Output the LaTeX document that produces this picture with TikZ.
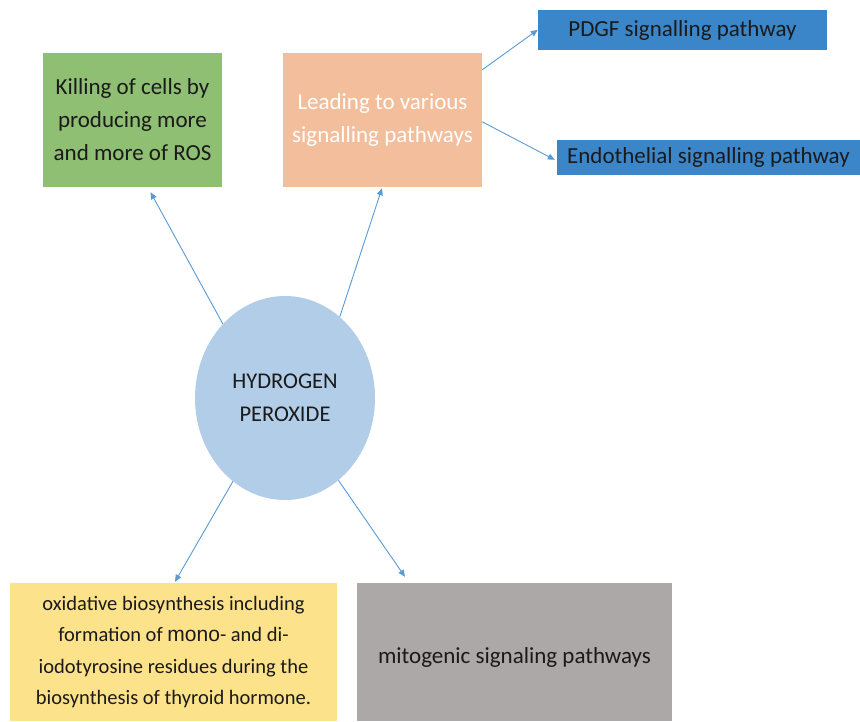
\documentclass[tikz,border=0pt]{standalone}
\usepackage{fontspec}
\setmainfont{Carlito}
\newfontfamily\arialfont{Liberation Sans}
\usetikzlibrary{shapes.geometric,arrows.meta}

\definecolor{killgreen}{HTML}{8FBF73}
\definecolor{leadorange}{HTML}{F3BE9C}
\definecolor{pathblue}{HTML}{3B86C8}
\definecolor{hpblue}{HTML}{B1CDE8}
\definecolor{oxyellow}{HTML}{FDE28C}
\definecolor{mitogray}{HTML}{ABA8A7}
\definecolor{arrowblue}{HTML}{5B9BD5}
\definecolor{ink}{HTML}{1A1A1A}

\tikzset{
  box/.style={rectangle, inner sep=0pt, align=center, text=ink,
    font=\fontsize{23}{33}\selectfont},
  arr/.style={draw=arrowblue, line width=0.9pt,
    -{Triangle[length=7pt,width=6pt]}},
}

\begin{document}
\begin{tikzpicture}[x=1pt,y=-1pt]
  \useasboundingbox[fill=white] (0,0) rectangle (860,721);

  % central compound
  \node[ellipse, fill=hpblue, minimum width=180pt, minimum height=204pt,
        inner sep=0pt, align=center, text=ink,
        font=\fontsize{22.5}{33}\selectfont] (h) at (285,398)
        {HYDROGEN\\PEROXIDE};

  % upper boxes
  \node[box, fill=killgreen, minimum width=179pt, minimum height=134pt] (kill)
        at (132.5,120) {Killing of cells by\\producing more\\and more of ROS};
  \node[box, fill=leadorange, text=white, minimum width=199pt, minimum height=134pt] (lead)
        at (382.5,120) {Leading to various\\signalling pathways};

  % signalling pathways
  \node[box, fill=pathblue, minimum width=289pt, minimum height=40pt] (pdgf)
        at (682.5,30) {PDGF signalling pathway};
  \node[box, fill=pathblue, minimum width=303pt, minimum height=35pt] (endo)
        at (708.5,157.5) {Endothelial signalling pathway};

  % lower boxes
  \node[box, fill=oxyellow, minimum width=327pt, minimum height=138pt,
        font=\fontsize{20.5}{31.5}\selectfont] (oxi) at (173.5,652)
        {oxidative biosynthesis including\\formation of {\arialfont\fontsize{21}{31.5}\selectfont mono}- and di-\\iodotyrosine residues during the\\biosynthesis of thyroid hormone.};
  \node[box, fill=mitogray, minimum width=315pt, minimum height=138pt] (mito)
        at (514.5,652) {};
  \node[box, anchor=center] (mitotext) at ([yshift=-5pt]mito.center)
        {mitogenic signaling pathways};

  % connectors
  \draw[arr] (h.130) -- ([xshift=18pt,yshift=-5pt]kill.south);
  \draw[arr] (h.56) -- ([xshift=-0.5pt,yshift=-1pt]lead.south);
  \draw[arr] (h.-122) -- ([xshift=1.5pt,yshift=1pt]oxi.north);
  \draw[arr] (h.-57) -- ([xshift=-109.5pt,yshift=6pt]mito.north);
  \draw[arr] ([yshift=-17pt]lead.north east) -- ([yshift=-20pt]pdgf.north west);
  \draw[arr] ([yshift=-69pt]lead.north east) -- ([xshift=-2pt,yshift=-20pt]endo.north west);
\end{tikzpicture}
\end{document}
